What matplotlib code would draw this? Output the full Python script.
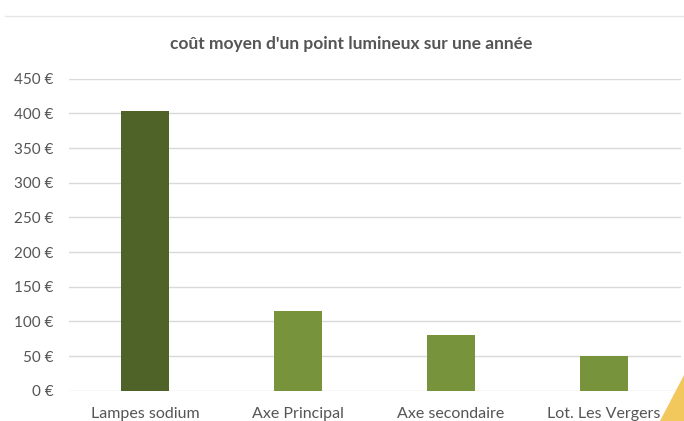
import matplotlib
matplotlib.use("Agg")
import matplotlib.pyplot as plt
from matplotlib.patches import Polygon
from matplotlib.lines import Line2D

categories = ["Lampes sodium", "Axe Principal", "Axe secondaire", "Lot. Les Vergers"]
values = [404, 115, 80, 50]
colors = ["#4f6228", "#77933c", "#77933c", "#77933c"]
yticks = [0, 50, 100, 150, 200, 250, 300, 350, 400, 450]
ytick_labels = [f"{v} €" for v in yticks]
title = "coût moyen d'un point lumineux sur une année"

plt.rcParams['font.family'] = ['Lato', 'DejaVu Sans']

W, H = 684, 421
fig = plt.figure(figsize=(W / 100, H / 100), dpi=100)
fig.patch.set_facecolor("white")

left, right = 68.5 / W, 680.5 / W
bottom, top = 1 - 390.7 / H, 1 - 78.7 / H
ax = fig.add_axes([left, bottom, right - left, top - bottom])

x = list(range(len(categories)))
ax.bar(x, values, width=0.31, color=colors, zorder=3)
ax.set_xlim(-0.5, len(categories) - 0.5)
ax.set_ylim(0, 450)
ax.set_yticks(yticks)
ax.set_yticklabels(ytick_labels, fontsize=11, color="#555555")
ax.set_xticks(x)
ax.set_xticklabels(categories, fontsize=11.5, color="#555555")
ax.tick_params(axis="both", length=0)
ax.tick_params(axis="y", pad=11)
ax.tick_params(axis="x", pad=12)
for s in ax.spines.values():
    s.set_visible(False)
ax.yaxis.grid(True, color="#d9d9d9", linewidth=1)
ax.set_axisbelow(True)

fig.text(351 / W, 1 - 44 / H, title, ha="center", va="center",
         fontsize=12.5, fontweight="bold", color="#555555")

# top separator line
fig.add_artist(Line2D([5 / W, 1], [1 - 15.5 / H, 1 - 15.5 / H],
                      color="#e6e6e6", linewidth=1, transform=fig.transFigure))

# decorative yellow triangle bottom right
tri = Polygon([[660 / W, 0], [1, 0], [1, 1 - 375 / H]], closed=True,
              facecolor="#f2c75c", edgecolor="none", transform=fig.transFigure)
fig.add_artist(tri)

fig.savefig("out.png", dpi=100)
